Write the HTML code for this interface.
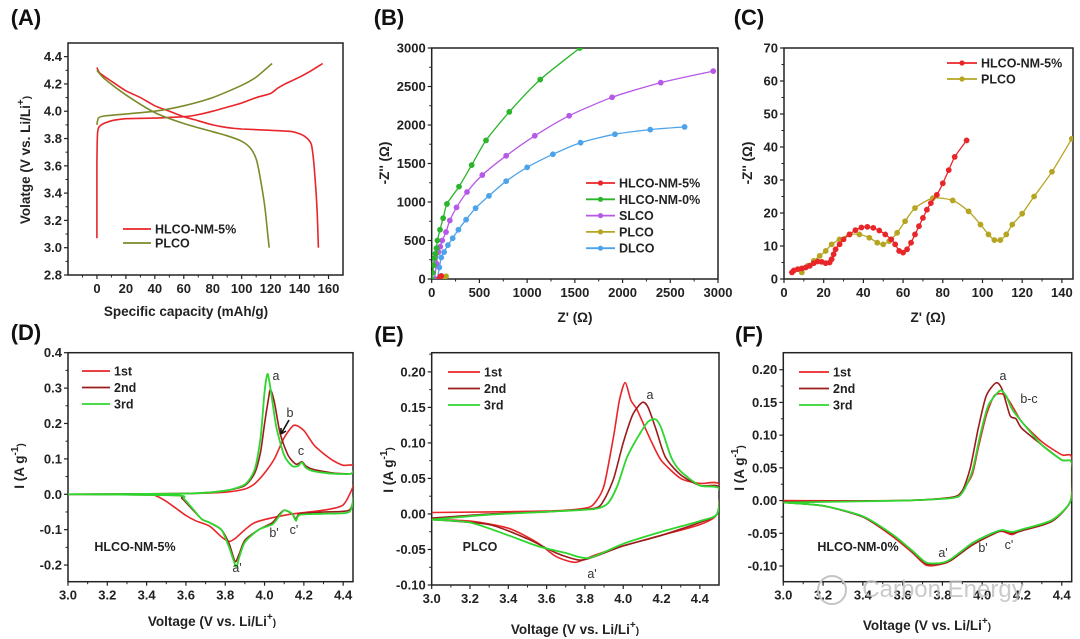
<!DOCTYPE html>
<html><head><meta charset="utf-8">
<style>
html,body{margin:0;padding:0;background:#fff;}
svg{display:block;font-family:"Liberation Sans",Arial,sans-serif;}
.tk{font-size:13px;font-weight:bold;fill:#222;}
.ti{font-size:13.5px;font-weight:bold;fill:#222;}
.pl{font-size:22px;font-weight:bold;fill:#111;}
.lg{font-size:12.5px;font-weight:bold;fill:#222;}
.an{font-size:12.5px;fill:#333;}
</style></head>
<body>
<svg id="fig" width="1080" height="639" viewBox="0 0 1080 639" xmlns="http://www.w3.org/2000/svg"></svg>
<script>
// ---- Panel A data (capacity, voltage)
const aHlcoCharge=[[0,3.07],[0,3.6],[0.5,3.85],[3,3.9],[10,3.93],[20,3.945],[40,3.95],[60,3.96],[70,3.975],[80,4.0],[90,4.03],[100,4.06],[110,4.1],[120,4.13],[125,4.17],[130,4.2],[140,4.25],[150,4.31],[156,4.35]];
const aHlcoDis=[[0,4.32],[2,4.28],[10,4.22],[20,4.15],[30,4.1],[40,4.04],[50,4.0],[60,3.96],[70,3.93],[80,3.9],[90,3.88],[100,3.87],[120,3.86],[135,3.85],[143,3.82],[148,3.76],[150,3.6],[152,3.3],[153,3.0]];
const aPlcoCharge=[[0,3.9],[1,3.95],[5,3.965],[20,3.98],[40,4.0],[60,4.04],[80,4.1],[100,4.19],[110,4.25],[121,4.35]];
const aPlcoDis=[[0,4.3],[5,4.24],[20,4.12],[40,3.99],[60,3.91],[80,3.85],[90,3.82],[100,3.78],[106,3.73],[110,3.65],[113,3.5],[116,3.3],[118,3.1],[119,3.0]];
const aXTicks=[0,20,40,60,80,100,120,140,160];
const aYTicks=[2.8,3.0,3.2,3.4,3.6,3.8,4.0,4.2,4.4];
// ---- Panel B data (Z', -Z'')
const bHlco5=[[80,0],[90,30],[100,40]];
const bHlco0=[[0,0],[10,80],[20,180],[30,270],[40,330],[50,400],[60,500],[87,640],[120,790],[160,975],[286,1200],[419,1480],[569,1800],[813,2170],[1137,2590],[1552,3000]];
const bSlco=[[30,0],[50,200],[70,350],[90,420],[110,500],[150,610],[190,760],[260,930],[370,1130],[530,1350],[780,1600],[1080,1860],[1440,2120],[1890,2360],[2400,2550],[2950,2700]];
const bPlco=[[130,0],[150,35]];
const bDlco=[[60,0],[80,150],[100,280],[130,350],[170,440],[220,530],[280,640],[360,770],[460,920],[600,1080],[780,1270],[1000,1450],[1270,1620],[1560,1770],[1920,1880],[2290,1940],[2650,1975]];
const bXTicks=[0,500,1000,1500,2000,2500,3000];
const bYTicks=[0,500,1000,1500,2000,2500,3000];
// ---- Panel C data
const cHlco5=[[4,2],[5,2.6],[7,3],[9,3.2],[11,3.5],[13,4],[15,4.8],[17,5.3],[19,5.2],[21,4.8],[23,5],[24,6],[25,7.5],[26,9],[28,10.5],[30,12],[33,13.5],[36,14.8],[39,15.6],[42,15.8],[45,15.5],[48,14.7],[51,13.5],[54,12],[56,10.5],[58,8.5],[60,8],[62,9],[64,11],[66,13.5],[68,16],[70,18.5],[72,21],[74,23],[77,25.5],[80,29],[83,33],[86,37],[92,42]];
const cPlco=[[9,2],[12,4],[15,5.5],[18,7],[21,8.5],[24,10.5],[28,12],[33,13.5],[38,13.5],[43,12.5],[47,11],[50,10.5],[53,11.5],[57,14],[61,17.5],[66,21.5],[75,24.5],[85,23.8],[93,20.5],[99,16.5],[103,13.5],[106,11.8],[109,11.8],[112,13.5],[115,16.5],[120,19.8],[126,25],[135,32.5],[145,42.5]];
const cXTicks=[0,20,40,60,80,100,120,140];
const cYTicks=[0,10,20,30,40,50,60,70];
// ---- Panel D data (closed CV loops)
const d1=[[3.0,0],[3.6,0.002],[3.8,0.006],[3.9,0.015],[3.95,0.03],[4.0,0.06],[4.05,0.1],[4.1,0.16],[4.15,0.195],[4.2,0.18],[4.25,0.14],[4.3,0.115],[4.35,0.095],[4.4,0.082],[4.46,0.08],[4.455,0.03],[4.4,-0.03],[4.3,-0.045],[4.15,-0.055],[4.05,-0.065],[3.95,-0.08],[3.9,-0.1],[3.85,-0.125],[3.82,-0.133],[3.78,-0.12],[3.72,-0.09],[3.65,-0.075],[3.6,-0.06],[3.55,-0.04],[3.5,-0.02],[3.45,-0.005],[3.4,0],[3.0,0]];
const d2=[[3.0,0],[3.6,0.002],[3.8,0.01],[3.9,0.025],[3.95,0.06],[3.98,0.12],[4.0,0.2],[4.02,0.27],[4.03,0.295],[4.05,0.26],[4.08,0.17],[4.12,0.11],[4.16,0.085],[4.19,0.092],[4.21,0.08],[4.25,0.07],[4.35,0.06],[4.44,0.058],[4.46,0.068],[4.455,0.0],[4.43,-0.045],[4.3,-0.05],[4.18,-0.055],[4.16,-0.07],[4.14,-0.055],[4.1,-0.045],[4.07,-0.06],[4.04,-0.08],[3.97,-0.1],[3.9,-0.13],[3.87,-0.17],[3.85,-0.19],[3.82,-0.14],[3.78,-0.1],[3.72,-0.08],[3.68,-0.07],[3.62,-0.035],[3.58,-0.012],[3.54,-0.003],[3.0,0]];
const d3=[[3.0,0],[3.6,0.002],[3.8,0.01],[3.9,0.028],[3.95,0.07],[3.98,0.16],[4.0,0.29],[4.015,0.34],[4.03,0.3],[4.06,0.19],[4.1,0.11],[4.14,0.08],[4.17,0.08],[4.19,0.09],[4.21,0.075],[4.25,0.065],[4.35,0.058],[4.44,0.058],[4.46,0.07],[4.455,0.0],[4.43,-0.05],[4.3,-0.055],[4.18,-0.058],[4.16,-0.075],[4.14,-0.055],[4.1,-0.045],[4.07,-0.065],[4.04,-0.085],[3.97,-0.1],[3.9,-0.135],[3.87,-0.18],[3.855,-0.205],[3.82,-0.15],[3.78,-0.1],[3.72,-0.08],[3.68,-0.07],[3.63,-0.038],[3.59,-0.013],[3.55,-0.003],[3.0,0]];
const dXTicks=[3.0,3.2,3.4,3.6,3.8,4.0,4.2,4.4];
const dYTicks=[-0.2,-0.1,0.0,0.1,0.2,0.3,0.4];
// ---- Panel E data
const e1=[[3.0,0.002],[3.6,0.004],[3.8,0.008],[3.85,0.015],[3.9,0.04],[3.95,0.11],[3.98,0.16],[4.01,0.185],[4.04,0.16],[4.07,0.148],[4.1,0.13],[4.15,0.1],[4.2,0.075],[4.3,0.05],[4.4,0.043],[4.5,0.042],[4.49,0.0],[4.4,-0.015],[4.2,-0.03],[4.0,-0.045],[3.85,-0.058],[3.75,-0.068],[3.65,-0.06],[3.55,-0.04],[3.4,-0.02],[3.2,-0.01],[3.0,-0.008]];
const e2=[[3.0,-0.006],[3.3,0.0],[3.6,0.003],[3.85,0.008],[3.9,0.02],[3.95,0.05],[4.0,0.1],[4.05,0.14],[4.1,0.157],[4.13,0.15],[4.17,0.12],[4.22,0.08],[4.3,0.055],[4.4,0.04],[4.5,0.038],[4.49,0],[4.4,-0.012],[4.2,-0.03],[4.0,-0.045],[3.85,-0.06],[3.77,-0.065],[3.65,-0.055],[3.5,-0.035],[3.3,-0.015],[3.0,-0.008]];
const e3=[[3.0,-0.008],[3.3,-0.001],[3.6,0.003],[3.85,0.007],[3.92,0.015],[3.97,0.04],[4.02,0.08],[4.08,0.11],[4.13,0.13],[4.17,0.133],[4.2,0.12],[4.25,0.08],[4.3,0.06],[4.4,0.04],[4.5,0.036],[4.49,0],[4.4,-0.01],[4.2,-0.025],[4.0,-0.042],[3.82,-0.062],[3.7,-0.055],[3.55,-0.045],[3.4,-0.03],[3.2,-0.012],[3.0,-0.008]];
const eXTicks=[3.0,3.2,3.4,3.6,3.8,4.0,4.2,4.4];
const eYTicks=[-0.10,-0.05,0.00,0.05,0.10,0.15,0.20];
// ---- Panel F data
const f1=[[3.0,0.0],[3.6,0.0],[3.85,0.005],[3.9,0.015],[3.95,0.04],[3.98,0.08],[4.02,0.13],[4.06,0.16],[4.1,0.163],[4.13,0.155],[4.16,0.14],[4.2,0.12],[4.3,0.09],[4.4,0.07],[4.45,0.066],[4.445,0],[4.35,-0.03],[4.2,-0.045],[4.15,-0.052],[4.1,-0.047],[4.05,-0.05],[3.95,-0.065],[3.85,-0.09],[3.8,-0.097],[3.72,-0.099],[3.65,-0.08],[3.55,-0.055],[3.4,-0.025],[3.2,-0.008],[3.0,-0.003]];
const f2=[[3.0,-0.002],[3.6,0.0],[3.85,0.005],[3.9,0.015],[3.94,0.05],[3.98,0.11],[4.02,0.16],[4.07,0.18],[4.1,0.17],[4.14,0.13],[4.17,0.125],[4.2,0.11],[4.3,0.085],[4.4,0.062],[4.45,0.058],[4.445,0],[4.35,-0.032],[4.2,-0.046],[4.15,-0.05],[4.1,-0.046],[4.05,-0.052],[3.95,-0.068],[3.85,-0.09],[3.8,-0.096],[3.72,-0.097],[3.65,-0.078],[3.55,-0.053],[3.4,-0.025],[3.2,-0.008],[3.0,-0.003]];
const f3=[[3.0,-0.003],[3.6,0.0],[3.85,0.004],[3.9,0.012],[3.95,0.045],[3.99,0.1],[4.03,0.145],[4.09,0.168],[4.12,0.16],[4.15,0.14],[4.2,0.12],[4.3,0.085],[4.4,0.062],[4.45,0.058],[4.445,0],[4.35,-0.03],[4.2,-0.044],[4.15,-0.048],[4.1,-0.045],[4.05,-0.05],[3.95,-0.065],[3.85,-0.088],[3.8,-0.095],[3.72,-0.095],[3.65,-0.077],[3.55,-0.052],[3.4,-0.024],[3.2,-0.008],[3.0,-0.003]];
const fXTicks=[3.0,3.2,3.4,3.6,3.8,4.0,4.2,4.4];
const fYTicks=[-0.10,-0.05,0.00,0.05,0.10,0.15,0.20];

const NS="http://www.w3.org/2000/svg";
const svg=document.getElementById('fig');
function mk(tag,attrs,parent,text){const e=document.createElementNS(NS,tag);for(const k in attrs)e.setAttribute(k,attrs[k]);if(text!==undefined)e.textContent=text;(parent||svg).appendChild(e);return e;}
function scale(d0,d1,r0,r1){return v=>r0+(v-d0)/(d1-d0)*(r1-r0);}
function smoothPath(pts){
  let d='M'+pts[0][0].toFixed(1)+','+pts[0][1].toFixed(1);
  for(let i=0;i<pts.length-1;i++){
    const p0=pts[i-1]||pts[i],p1=pts[i],p2=pts[i+1],p3=pts[i+2]||p2;
    const t=0.12;
    const c1=[p1[0]+(p2[0]-p0[0])*t,p1[1]+(p2[1]-p0[1])*t];
    const c2=[p2[0]-(p3[0]-p1[0])*t,p2[1]-(p3[1]-p1[1])*t];
    d+=' C'+c1[0].toFixed(1)+','+c1[1].toFixed(1)+' '+c2[0].toFixed(1)+','+c2[1].toFixed(1)+' '+p2[0].toFixed(1)+','+p2[1].toFixed(1);
  }
  return d;
}
function panel(o){
  const g=mk('g',{});
  
  
  const X=scale(o.xd[0],o.xd[1],o.L,o.R), Y=scale(o.yd[0],o.yd[1],o.B,o.T);
  const clipId='clip-'+o.name;
  const cp=mk('clipPath',{id:clipId},g);mk('rect',{x:o.L,y:o.T,width:o.R-o.L,height:o.B-o.T},cp);
  const xs=o.xt[1]-o.xt[0], ys=o.yt[1]-o.yt[0];
  o.xt.forEach((v,i)=>{
    const x=X(v);
    const tk=mk('line',{x1:x,x2:x,y1:o.B,y2:o.B+4,stroke:'#222','stroke-width':1.2},g);
    
    
    const xm=X(v+xs/2); if(xm<o.R-1&&xm>o.L) mk('line',{x1:xm,x2:xm,y1:o.B,y2:o.B+2.5,stroke:'#222','stroke-width':1},g);
    if(i===0){const xm0=X(v-xs/2); if(xm0>o.L+1) mk('line',{x1:xm0,x2:xm0,y1:o.B,y2:o.B+2.5,stroke:'#222','stroke-width':1},g);}
    const lb=mk('text',{x:x,y:o.B+18,'text-anchor':'middle',class:'tk'},g,o.xf(v));
    
    
  });
  o.yt.forEach((v,i)=>{
    const y=Y(v);
    const tk=mk('line',{x1:o.L-4,x2:o.L,y1:y,y2:y,stroke:'#222','stroke-width':1.2},g);
    
    
    const ym=Y(v+ys/2); if(ym>o.T+1&&ym<o.B) mk('line',{x1:o.L-2.5,x2:o.L,y1:ym,y2:ym,stroke:'#222','stroke-width':1},g);
    const lb=mk('text',{x:o.L-6,y:y+4.5,'text-anchor':'end',class:'tk'},g,o.yf(v));
    
    
  });
  const fr=mk('rect',{x:o.L,y:o.T,width:o.R-o.L,height:o.B-o.T,fill:'none',stroke:'#222','stroke-width':1.5},g);
  
  
  const sg=mk('g',{'clip-path':'url(#'+clipId+')'},g);
  o.series.forEach(s=>{
    const pts=s.data.map(p=>[X(p[0]),Y(p[1])]);
    const p=mk('path',{d:smoothPath(pts),fill:'none',stroke:s.color,'stroke-width':s.w||1.6,'stroke-linejoin':'round'},sg);
    
    
    if(s.marker){pts.forEach(q=>{
      const c=mk('circle',{cx:q[0],cy:q[1],r:s.marker,fill:s.color,stroke:s.color,'stroke-width':0.6},sg);
      
      
    });}
  });
  return {g,X,Y};
}
function legend(x,y0,dy,items,marker,len){
  items.forEach((it,i)=>{
    const y=y0+i*dy;
    const l=mk('line',{x1:x,x2:x+(len||30),y1:y,y2:y,stroke:it[1],'stroke-width':1.8});
    
    
    if(marker){const c=mk('circle',{cx:x+(len||30)/2,cy:y,r:2.6,fill:it[1]});}
    const t=mk('text',{x:x+(len||30)+4,y:y+4.5,class:'lg'},svg,it[0]);
    
    
  });
}
function txt(x,y,s,cls,name,rot){
  const a={x:x,y:y,class:cls,'text-anchor':'middle'};
  if(rot)a.transform='rotate(-90 '+x+' '+y+')';
  const t=mk('text',a,svg,s);
  
  
  return t;
}
function richTitle(x,y,parts,name,rot){
  const a={x:x,y:y,class:'ti','text-anchor':'middle'};
  if(rot)a.transform='rotate(-90 '+x+' '+y+')';
  const t=mk('text',a);
  
  
  parts.forEach(p=>{mk('tspan',p[1]?{'font-size':'10px',dy:p[1]}:{},t,p[0]);});
  return t;
}
const f1d=v=>v.toFixed(1), f2d=v=>v.toFixed(2), fi=v=>String(v);
const RED='#e8262a', DRED='#9b1c1c', GRN='#2fd62f', OLIVE='#7d8a2a';

// Panel A
panel({name:'panel-a',L:68,R:343,T:43,B:275,xd:[-20,170],yd:[2.8,4.5],xt:aXTicks,yt:aYTicks,xf:fi,yf:f1d,
 series:[{name:'hlco-charge',data:aHlcoCharge,color:RED},{name:'hlco-discharge',data:aHlcoDis,color:RED},
 {name:'plco-charge',data:aPlcoCharge,color:OLIVE},{name:'plco-discharge',data:aPlcoDis,color:OLIVE}]});
legend(123,229,14,[['HLCO-NM-5%',RED],['PLCO',OLIVE]],false,28);
txt(186,316,'Specific capacity (mAh/g)','ti','x-axis-title-a');
richTitle(30,160,[['Volatge (V vs. Li/Li'],['+','-6'],[')','6']],'y-axis-title-a',true);
txt(26,25,'(A)','pl','panel-label-a');

// Panel B
const cB={red:'#e8262a',grn:'#2ab52a',pur:'#b659e8',yel:'#b5a521',blu:'#4da3ea'};
panel({name:'panel-b',L:431.7,R:718,T:48,B:279,xd:[0,3000],yd:[0,3000],xt:bXTicks,yt:bYTicks,xf:fi,yf:fi,
 series:[{name:'dlco-series',data:bDlco,color:cB.blu,marker:2.6,w:1.3},{name:'slco-series',data:bSlco,color:cB.pur,marker:2.6,w:1.3},
 {name:'hlco-nm-0-series',data:bHlco0,color:cB.grn,marker:2.6,w:1.3},{name:'plco-series',data:bPlco,color:cB.yel,marker:2.6,w:1.3},
 {name:'hlco-nm-5-series',data:bHlco5,color:cB.red,marker:2.6,w:1.3}]});
legend(586,183,16.3,[['HLCO-NM-5%',cB.red],['HLCO-NM-0%',cB.grn],['SLCO',cB.pur],['PLCO',cB.yel],['DLCO',cB.blu]],true,29);
txt(575,322,"Z' (Ω)",'ti','x-axis-title-b');
txt(389,163,"-Z'' (Ω)",'ti','y-axis-title-b',true);
txt(389,25,'(B)','pl','panel-label-b');

// Panel C
panel({name:'panel-c',L:784,R:1073,T:48,B:279,xd:[0,145.6],yd:[0,70],xt:cXTicks,yt:cYTicks,xf:fi,yf:fi,
 series:[{name:'plco-series',data:cPlco,color:cB.yel,marker:2.6,w:1.3},{name:'hlco-nm-5-series',data:cHlco5,color:cB.red,marker:2.6,w:1.3}]});
legend(947,63,16,[['HLCO-NM-5%',cB.red],['PLCO',cB.yel]],true,30);
txt(928,322,"Z' (Ω)",'ti','x-axis-title-c');
txt(752,163,"-Z'' (Ω)",'ti','y-axis-title-c',true);
txt(749,25,'(C)','pl','panel-label-c');

// Panel D
panel({name:'panel-d',L:68,R:353,T:352.7,B:581.7,xd:[3.0,4.45],yd:[-0.247,0.4],xt:dXTicks,yt:dYTicks,xf:f1d,yf:f1d,
 series:[{name:'cycle-1',data:d1,color:RED,w:1.6},{name:'cycle-2',data:d2,color:DRED,w:1.6},{name:'cycle-3',data:d3,color:GRN,w:1.8}]});
legend(82,371,16.5,[['1st',RED],['2nd',DRED],['3rd',GRN]],false,28);
richTitle(212,626,[['Voltage (V vs. Li/Li'],['+','-6'],[')','6']],'x-axis-title-d');
richTitle(24,466,[['I (A g'],['-1','-6'],[')','6']],'y-axis-title-d',true);
txt(26,340,'(D)','pl','panel-label-d');
txt(276,380,'a','an','peak-label-a');txt(290,417,'b','an','peak-label-b');txt(301,455,'c','an','peak-label-c');
txt(274,537,"b'",'an','peak-label-b-prime');txt(294,534,"c'",'an','peak-label-c-prime');txt(237,572,"a'",'an','peak-label-a-prime');
txt(135,551,'HLCO-NM-5%','lg','sample-label-d');
const arr=mk('path',{d:'M289,420 L281,434 M281,434 l0,-6 M281,434 l5,-3',stroke:'#111','stroke-width':1.6,fill:'none'});



// Panel E
panel({name:'panel-e',L:431.7,R:719,T:352.7,B:585,xd:[3.0,4.5],yd:[-0.10,0.227],xt:eXTicks,yt:eYTicks,xf:f1d,yf:f2d,
 series:[{name:'cycle-1',data:e1,color:RED,w:1.6},{name:'cycle-2',data:e2,color:DRED,w:1.6},{name:'cycle-3',data:e3,color:GRN,w:1.8}]});
legend(448,372,16.5,[['1st',RED],['2nd',DRED],['3rd',GRN]],false,32);
richTitle(575,634,[['Voltage (V vs. Li/Li'],['+','-6'],[')','6']],'x-axis-title-e');
richTitle(393,470,[['I (A g'],['-1','-6'],[')','6']],'y-axis-title-e',true);
txt(389,342,'(E)','pl','panel-label-e');
txt(650,399,'a','an','peak-label-a');txt(592,578,"a'",'an','peak-label-a-prime');
txt(480,551,'PLCO','lg','sample-label-e');

// Panel F
panel({name:'panel-f',L:783.3,R:1071.7,T:352.7,B:581.7,xd:[3.0,4.45],yd:[-0.124,0.226],xt:fXTicks,yt:fYTicks,xf:f1d,yf:f2d,
 series:[{name:'cycle-1',data:f1,color:RED,w:1.6},{name:'cycle-2',data:f2,color:DRED,w:1.6},{name:'cycle-3',data:f3,color:GRN,w:1.8}]});
legend(799,372,16.5,[['1st',RED],['2nd',DRED],['3rd',GRN]],false,30);
richTitle(927,630,[['Voltage (V vs. Li/Li'],['+','-6'],[')','6']],'x-axis-title-f');
richTitle(744,468,[['I (A g'],['-1','-6'],[')','6']],'y-axis-title-f',true);
txt(749,342,'(F)','pl','panel-label-f');
txt(1003,380,'a','an','peak-label-a');txt(1029,403,'b-c','an','peak-label-bc');
txt(943,557,"a'",'an','peak-label-a-prime');txt(983,552,"b'",'an','peak-label-b-prime');txt(1009,549,"c'",'an','peak-label-c-prime');
txt(858,551,'HLCO-NM-0%','lg','sample-label-f');
const wm=mk('text',{x:943,y:597,'text-anchor':'middle','font-size':'24px',fill:'#bdbdbd','fill-opacity':'0.8'},svg,'Carbon Energy');


const wc=mk('circle',{cx:832,cy:590,r:14,fill:'none',stroke:'#c4c4c4','stroke-width':2});


</script>
</body></html>
